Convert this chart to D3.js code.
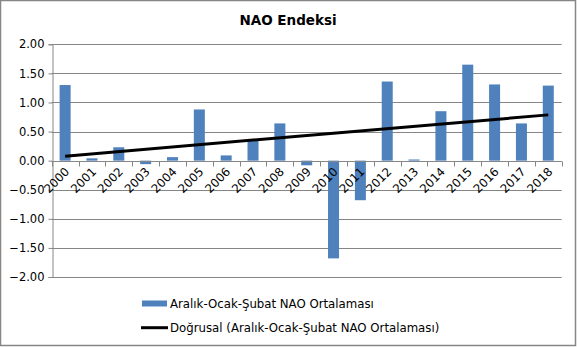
<!DOCTYPE html>
<html><head><meta charset="utf-8">
<script src="https://cdn.jsdelivr.net/npm/d3@7/dist/d3.min.js"></script>
<style>body{margin:0;background:#fff}svg{display:block;font-family:"DejaVu Sans",sans-serif}</style>
</head><body><svg id="c" width="577" height="347"></svg>
<script>
const years = ["2000","2001","2002","2003","2004","2005","2006","2007","2008","2009","2010","2011","2012","2013","2014","2015","2016","2017","2018"];
const naoValues = [1.30,0.04,0.23,-0.06,0.06,0.88,0.09,0.35,0.64,-0.08,-1.68,-0.68,1.36,0.02,0.85,1.65,1.31,0.64,1.29];
const yTicks = [2,1.5,1,0.5,0,-0.5,-1,-1.5,-2];
const titleText = "NAO Endeksi";
const seriesName = "Aralık-Ocak-Şubat NAO Ortalaması";
const trendName = "Doğrusal (Aralık-Ocak-Şubat NAO Ortalaması)";

const svg = d3.select("#c");
svg.append("rect").attr("x",0.5).attr("y",0.5).attr("width",575).attr("height",345)
  .attr("fill","#fff").attr("stroke","#868686").attr("stroke-width",1.5);

const pLeft = 51.7, pRight = 561.7, pTop = 44.3, pBottom = 277;
const x = d3.scaleBand().domain(years).range([pLeft,pRight]).paddingInner(0.59).paddingOuter(0.295);
const xb = d3.scaleBand().domain(years).range([pLeft,pRight]);
const y = d3.scaleLinear().domain([-2,2]).range([pBottom,pTop]);

// gridlines
svg.append("g").selectAll("line").data(yTicks).join("line")
  .attr("x1",pLeft).attr("x2",pRight).attr("y1",d=>Math.round(y(d))+0.5).attr("y2",d=>Math.round(y(d))+0.5)
  .attr("stroke","#868686").attr("stroke-width",1);

// y axis
const yAxis = svg.append("g").attr("transform",`translate(${Math.round(pLeft)+0.5},0)`)
  .call(d3.axisLeft(y).tickValues(yTicks).tickFormat(d3.format(".2f")).tickSize(4).tickPadding(4));
yAxis.select(".domain").attr("stroke","#868686");
yAxis.selectAll(".tick line").attr("stroke","#868686");
yAxis.selectAll(".tick text").attr("font-size",11.5).attr("fill","#000").attr("font-family","DejaVu Sans");

// bars
svg.append("g").selectAll("rect").data(years).join("rect")
  .attr("x",d=>x(d)).attr("width",x.bandwidth())
  .attr("y",(d,i)=>y(Math.max(0,naoValues[i])))
  .attr("height",(d,i)=>Math.abs(y(naoValues[i])-y(0)))
  .attr("fill","#4f81bd");

// x axis at zero
const zeroY = Math.round(y(0))+0.5;
const xg = svg.append("g");
xg.append("line").attr("x1",pLeft).attr("x2",pRight).attr("y1",zeroY).attr("y2",zeroY).attr("stroke","#868686");
const bounds = years.map(d=>xb(d)).concat([pRight]);
xg.selectAll("line.t").data(bounds).join("line").attr("class","t")
  .attr("x1",d=>Math.round(d)+0.5).attr("x2",d=>Math.round(d)+0.5).attr("y1",zeroY).attr("y2",zeroY+5)
  .attr("stroke","#868686");
xg.selectAll("text").data(years).join("text")
  .attr("transform",d=>`translate(${x(d)+x.bandwidth()/2+5},${zeroY+11}) rotate(-45)`)
  .attr("text-anchor","end").attr("font-size",11.8).attr("fill","#000").text(d=>d);

// linear trend (least squares over the series)
const idx = naoValues.map((v,i)=>i);
const mx = d3.mean(idx), my = d3.mean(naoValues);
const slope = d3.sum(idx,i=>(i-mx)*(naoValues[i]-my))/d3.sum(idx,i=>(i-mx)*(i-mx));
const icpt = my - slope*mx;
const cx = i => x(years[i])+x.bandwidth()/2;
svg.append("line")
  .attr("x1",cx(0)).attr("y1",y(icpt))
  .attr("x2",cx(years.length-1)).attr("y2",y(icpt+slope*(years.length-1)))
  .attr("stroke","#000").attr("stroke-width",3);

// title
svg.append("text").attr("x",288).attr("y",25).attr("text-anchor","middle")
  .attr("font-size",13.5).attr("font-weight","bold").text(titleText);

// legend
svg.append("rect").attr("x",142).attr("y",300.5).attr("width",25).attr("height",6).attr("fill","#4f81bd");
svg.append("text").attr("x",170).attr("y",308).attr("font-size",11.75).text(seriesName);
svg.append("line").attr("x1",141).attr("x2",168).attr("y1",327.7).attr("y2",327.7).attr("stroke","#000").attr("stroke-width",3);
svg.append("text").attr("x",170).attr("y",332).attr("font-size",11.75).text(trendName);
</script></body></html>
